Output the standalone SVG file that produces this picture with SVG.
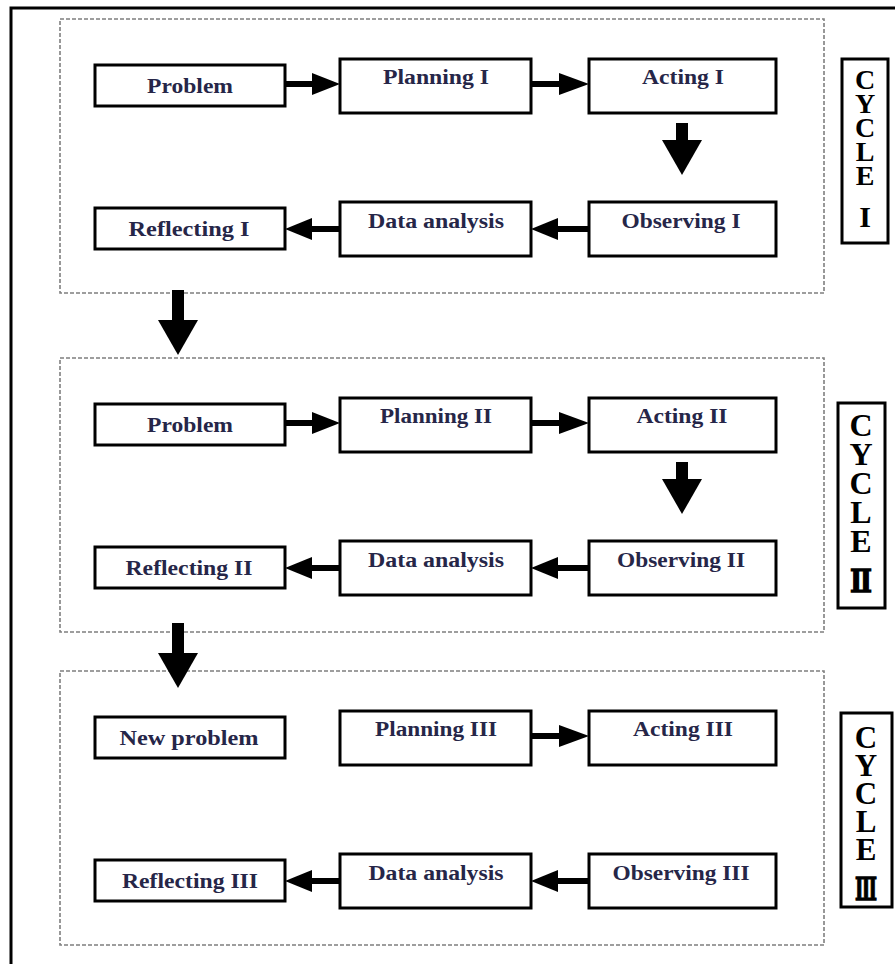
<svg xmlns="http://www.w3.org/2000/svg" width="895" height="964" viewBox="0 0 895 964">
<defs>
<style>
.frame{fill:none;stroke:#000;stroke-width:3}
.cyc{fill:none;stroke:#7f7f7f;stroke-width:1.6;stroke-dasharray:4 2}
.box{fill:#fff;stroke:#000;stroke-width:3}
.lbl{font-family:"Liberation Serif","Times New Roman",serif;font-weight:bold;font-size:20px;fill:#262648;text-anchor:middle}
.cl{font-family:"Liberation Serif","DejaVu Serif",serif;font-weight:bold;fill:#000;text-anchor:middle}
.rn{stroke:#000;stroke-width:1.3}
.vt{font-family:"Liberation Serif","DejaVu Serif",serif;font-weight:bold;fill:#000;writing-mode:vertical-rl;text-orientation:upright}
.arr{fill:#000}
</style>
</defs>
<rect width="895" height="964" fill="#fff"/>
<rect class="frame" x="11" y="8" width="900" height="1000"/>

<g id="cycles">
<rect class="cyc" x="60" y="19" width="764" height="274"/>
<rect class="cyc" x="60" y="358" width="764" height="274"/>
<rect class="cyc" x="60" y="671" width="764" height="274"/>
</g>

<g id="connectors">
<!-- cycle 1 -->
<rect class="arr" x="285" y="81" width="29" height="6"/><polygon class="arr" points="312,73 340,84 312,95"/>
<rect class="arr" x="531" y="81" width="30" height="6"/><polygon class="arr" points="559,73 589,84 559,95"/>
<rect class="arr" x="676" y="123" width="12" height="18"/><polygon class="arr" points="662,140 702,140 682,175"/>
<rect class="arr" x="556" y="226" width="33" height="6"/><polygon class="arr" points="558,218 531,229 558,240"/>
<rect class="arr" x="310" y="226" width="30" height="6"/><polygon class="arr" points="312,218 285,229 312,240"/>
<!-- between 1 and 2 -->
<rect class="arr" x="172" y="290" width="12" height="31"/><polygon class="arr" points="158,320 198,320 178,355"/>
<!-- cycle 2 -->
<rect class="arr" x="285" y="420" width="29" height="6"/><polygon class="arr" points="312,412 340,423 312,434"/>
<rect class="arr" x="531" y="420" width="30" height="6"/><polygon class="arr" points="559,412 589,423 559,434"/>
<rect class="arr" x="676" y="462" width="12" height="18"/><polygon class="arr" points="662,479 702,479 682,514"/>
<rect class="arr" x="556" y="565" width="33" height="6"/><polygon class="arr" points="558,557 531,568 558,579"/>
<rect class="arr" x="310" y="565" width="30" height="6"/><polygon class="arr" points="312,557 285,568 312,579"/>
<!-- between 2 and 3 -->
<rect class="arr" x="172" y="623" width="12" height="31"/><polygon class="arr" points="158,653 198,653 178,688"/>
<!-- cycle 3 -->
<rect class="arr" x="531" y="733" width="30" height="6"/><polygon class="arr" points="559,725 589,736 559,747"/>
<rect class="arr" x="556" y="878" width="33" height="6"/><polygon class="arr" points="558,870 531,881 558,892"/>
<rect class="arr" x="310" y="878" width="30" height="6"/><polygon class="arr" points="312,870 285,881 312,892"/>
</g>

<!-- Cycle I nodes -->
<g id="problem1"><rect class="box" x="95" y="65" width="190" height="41"/><text class="lbl" x="190" y="93" textLength="86" lengthAdjust="spacingAndGlyphs">Problem</text></g>
<g id="planning1"><rect class="box" x="340" y="59" width="191" height="54"/><text class="lbl" x="436" y="84" textLength="106" lengthAdjust="spacingAndGlyphs">Planning I</text></g>
<g id="acting1"><rect class="box" x="589" y="59" width="187" height="54"/><text class="lbl" x="683" y="84" textLength="82" lengthAdjust="spacingAndGlyphs">Acting I</text></g>
<g id="observing1"><rect class="box" x="589" y="202" width="187" height="54"/><text class="lbl" x="681" y="228" textLength="119" lengthAdjust="spacingAndGlyphs">Observing I</text></g>
<g id="data1"><rect class="box" x="340" y="202" width="191" height="54"/><text class="lbl" x="436" y="228" textLength="136" lengthAdjust="spacingAndGlyphs">Data analysis</text></g>
<g id="reflecting1"><rect class="box" x="95" y="208" width="190" height="41"/><text class="lbl" x="189" y="236" textLength="121" lengthAdjust="spacingAndGlyphs">Reflecting I</text></g>
<g id="cycle1label"><rect class="box" x="842" y="59" width="46" height="184"/>
<text class="vt" x="865" y="64" font-size="28" letter-spacing="-7">CYCLE</text>
<text class="cl" x="865" y="227" font-size="30">I</text></g>

<!-- Cycle II nodes -->
<g id="problem2"><rect class="box" x="95" y="404" width="190" height="41"/><text class="lbl" x="190" y="432" textLength="86" lengthAdjust="spacingAndGlyphs">Problem</text></g>
<g id="planning2"><rect class="box" x="340" y="398" width="191" height="54"/><text class="lbl" x="436" y="423" textLength="112" lengthAdjust="spacingAndGlyphs">Planning II</text></g>
<g id="acting2"><rect class="box" x="589" y="398" width="187" height="54"/><text class="lbl" x="682" y="423" textLength="91" lengthAdjust="spacingAndGlyphs">Acting II</text></g>
<g id="observing2"><rect class="box" x="589" y="541" width="187" height="54"/><text class="lbl" x="681" y="567" textLength="128" lengthAdjust="spacingAndGlyphs">Observing II</text></g>
<g id="data2"><rect class="box" x="340" y="541" width="191" height="54"/><text class="lbl" x="436" y="567" textLength="136" lengthAdjust="spacingAndGlyphs">Data analysis</text></g>
<g id="reflecting2"><rect class="box" x="95" y="547" width="190" height="41"/><text class="lbl" x="189" y="575" textLength="127" lengthAdjust="spacingAndGlyphs">Reflecting II</text></g>
<g id="cycle2label"><rect class="box" x="838" y="403" width="47" height="205"/>
<text class="vt" x="861" y="407" font-size="32" letter-spacing="-7">CYCLE</text>
<text class="cl rn" x="861" y="592" font-size="32" textLength="22" lengthAdjust="spacingAndGlyphs">Ⅱ</text></g>

<!-- Cycle III nodes -->
<g id="newproblem3"><rect class="box" x="95" y="717" width="190" height="41"/><text class="lbl" x="189" y="745" textLength="139" lengthAdjust="spacingAndGlyphs">New problem</text></g>
<g id="planning3"><rect class="box" x="340" y="711" width="191" height="54"/><text class="lbl" x="436" y="736" textLength="122" lengthAdjust="spacingAndGlyphs">Planning III</text></g>
<g id="acting3"><rect class="box" x="589" y="711" width="187" height="54"/><text class="lbl" x="683" y="736" textLength="100" lengthAdjust="spacingAndGlyphs">Acting III</text></g>
<g id="observing3"><rect class="box" x="589" y="854" width="187" height="54"/><text class="lbl" x="681" y="880" textLength="137" lengthAdjust="spacingAndGlyphs">Observing III</text></g>
<g id="data3"><rect class="box" x="340" y="854" width="191" height="54"/><text class="lbl" x="436" y="880" textLength="135" lengthAdjust="spacingAndGlyphs">Data analysis</text></g>
<g id="reflecting3"><rect class="box" x="95" y="860" width="190" height="41"/><text class="lbl" x="190" y="888" textLength="136" lengthAdjust="spacingAndGlyphs">Reflecting III</text></g>
<g id="cycle3label"><rect class="box" x="841" y="713" width="51" height="194"/>
<text class="vt" x="866" y="720" font-size="31" letter-spacing="-7">CYCLE</text>
<text class="cl rn" x="866" y="900" font-size="32" textLength="22" lengthAdjust="spacingAndGlyphs">Ⅲ</text></g>
</svg>
